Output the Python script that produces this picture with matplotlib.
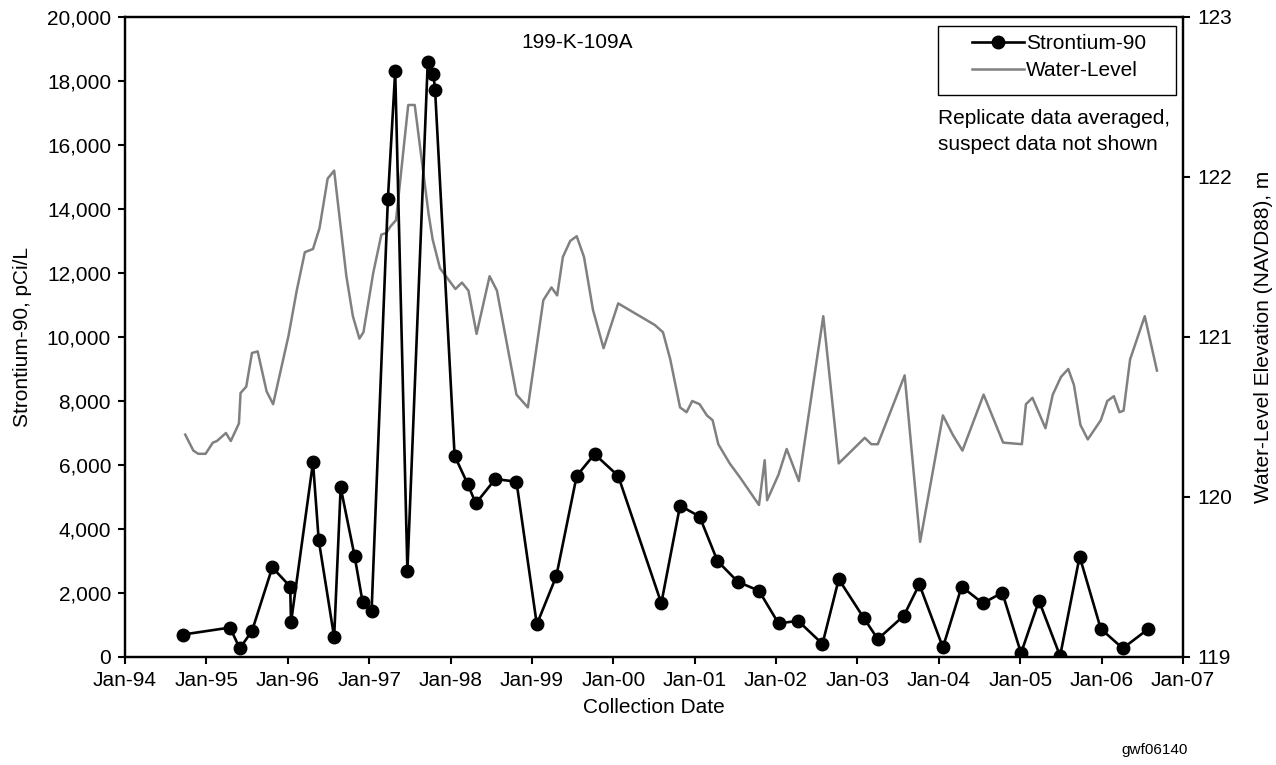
import matplotlib
matplotlib.use("Agg")
import matplotlib.pyplot as plt
from matplotlib.patches import Rectangle
from matplotlib.ticker import FuncFormatter

plt.rcParams['font.family'] = ['Liberation Sans', 'DejaVu Sans']

# Strontium-90 samples (decimal year, pCi/L)
sr_year = [1994.71, 1995.29, 1995.41, 1995.56, 1995.81, 1996.03, 1996.04, 1996.31, 1996.38, 1996.57,
           1996.65, 1996.82, 1996.92, 1997.03, 1997.23, 1997.32, 1997.47, 1997.72, 1997.79, 1997.81,
           1998.05, 1998.21, 1998.31, 1998.55, 1998.81, 1999.06, 1999.30, 1999.55, 1999.77, 2000.06,
           2000.59, 2000.82, 2001.06, 2001.28, 2001.53, 2001.79, 2002.03, 2002.27, 2002.57, 2002.77,
           2003.08, 2003.25, 2003.57, 2003.76, 2004.05, 2004.28, 2004.54, 2004.78, 2005.01, 2005.23,
           2005.49, 2005.73, 2005.99, 2006.26, 2006.57]
sr_val = [700, 920, 270, 810, 2800, 2200, 1080, 6080, 3660, 620,
          5300, 3170, 1710, 1450, 14300, 18300, 2690, 18600, 18210, 17720,
          6290, 5410, 4800, 5560, 5480, 1020, 2530, 5660, 6340, 5660,
          1680, 4730, 4390, 3000, 2350, 2070, 1050, 1130, 410, 2430,
          1210, 560, 1290, 2270, 300, 2200, 1680, 2010, 120, 1760,
          30, 3140, 880, 270, 870]

# water level (decimal year, m NAVD88)
wl_year = [1994.74, 1994.84, 1994.90, 1994.99, 1995.08, 1995.13, 1995.24, 1995.30, 1995.40, 1995.42,
           1995.49, 1995.56, 1995.63, 1995.74, 1995.82, 1996.01, 1996.11, 1996.21, 1996.31, 1996.39,
           1996.49, 1996.57, 1996.72, 1996.80, 1996.88, 1996.93, 1997.05, 1997.15, 1997.21, 1997.26,
           1997.33, 1997.48, 1997.56, 1997.73, 1997.78, 1997.87, 1998.06, 1998.14, 1998.22, 1998.32,
           1998.48, 1998.57, 1998.81, 1998.95, 1999.14, 1999.24, 1999.31, 1999.38, 1999.47, 1999.55,
           1999.64, 1999.75, 1999.88, 2000.06, 2000.51, 2000.61, 2000.70, 2000.82, 2000.90, 2000.97,
           2001.06, 2001.15, 2001.22, 2001.29, 2001.43, 2001.56, 2001.79, 2001.86, 2001.89, 2002.03,
           2002.13, 2002.28, 2002.58, 2002.77, 2003.09, 2003.17, 2003.25, 2003.58, 2003.77, 2004.05,
           2004.17, 2004.29, 2004.55, 2004.79, 2005.02, 2005.07, 2005.15, 2005.31, 2005.40, 2005.50,
           2005.59, 2005.66, 2005.74, 2005.83, 2005.99, 2006.07, 2006.15, 2006.22, 2006.27, 2006.35,
           2006.53, 2006.68]
wl_val = [120.39, 120.29, 120.27, 120.27, 120.34, 120.35, 120.40, 120.35, 120.46, 120.65,
          120.69, 120.90, 120.91, 120.66, 120.58, 121.01, 121.29, 121.53, 121.55, 121.68,
          121.99, 122.04, 121.38, 121.13, 120.99, 121.03, 121.40, 121.64, 121.65, 121.69,
          121.73, 122.45, 122.45, 121.77, 121.61, 121.43, 121.30, 121.34, 121.29, 121.02,
          121.38, 121.29, 120.64, 120.56, 121.23, 121.31, 121.26, 121.50, 121.60, 121.63,
          121.50, 121.17, 120.93, 121.21, 121.075, 121.03, 120.86, 120.56, 120.53, 120.60,
          120.58, 120.51, 120.48, 120.33, 120.21, 120.12, 119.95, 120.23, 119.98, 120.14,
          120.30, 120.10, 121.13, 120.21, 120.37, 120.33, 120.33, 120.76, 119.72, 120.51,
          120.39, 120.29, 120.64, 120.34, 120.33, 120.58, 120.62, 120.43, 120.64, 120.75,
          120.80, 120.70, 120.45, 120.36, 120.48, 120.60, 120.63, 120.53, 120.54, 120.86,
          121.13, 120.79]

year_ticks = list(range(1994, 2008))
year_labels = ['Jan-94', 'Jan-95', 'Jan-96', 'Jan-97', 'Jan-98', 'Jan-99', 'Jan-00',
               'Jan-01', 'Jan-02', 'Jan-03', 'Jan-04', 'Jan-05', 'Jan-06', 'Jan-07']

fs = 15
fig = plt.figure(figsize=(12.76, 7.65), dpi=100)
ax = fig.add_axes([125/1276, 1-657/765, (1183-125)/1276, 640/765])
ax2 = ax.twinx()

ln_wl, = ax2.plot(wl_year, wl_val, color='#808080', lw=1.8, label='Water-Level')
ln_sr, = ax.plot(sr_year, sr_val, color='black', lw=1.9, marker='o', ms=9,
                 label='Strontium-90')
ax.set_zorder(ax2.get_zorder() + 1)
ax.patch.set_visible(False)

ax.set_xlim(1994, 2007)
ax.set_ylim(0, 20000)
ax2.set_ylim(119, 123)
ax.set_xticks(year_ticks)
ax.set_xticklabels(year_labels)
ax.set_yticks(range(0, 20001, 2000))
ax.yaxis.set_major_formatter(FuncFormatter(lambda v, p: f'{int(v):,}'))
ax2.set_yticks([119, 120, 121, 122, 123])

for a in (ax, ax2):
    for s in a.spines.values():
        s.set_linewidth(1.6)
    a.tick_params(direction='out', length=5, width=1.5, labelsize=fs, pad=5)

ax.set_ylabel('Strontium-90, pCi/L', fontsize=fs, labelpad=11)
ax2.set_ylabel('Water-Level Elevation (NAVD88), m', fontsize=fs, labelpad=16)
ax.set_xlabel('Collection Date', fontsize=fs, labelpad=6)

ax.text(0.427, 0.96, '199-K-109A', transform=ax.transAxes, ha='center', va='center', fontsize=fs)

# legend frame drawn separately so its padding matches the original box
ax.add_patch(Rectangle((0.7684, 0.878), 0.225, 0.108, transform=ax.transAxes,
                       fill=False, edgecolor='black', lw=1.0, zorder=5))
leg = ax.legend(handles=[ln_sr, ln_wl], loc='center', bbox_to_anchor=(0.883, 0.937),
                fontsize=fs, frameon=False, handlelength=2.5, handletextpad=0.1,
                borderpad=0.0, labelspacing=0.4, borderaxespad=0)

ax.text(0.768, 0.856, 'Replicate data averaged,\nsuspect data not shown', transform=ax.transAxes,
        ha='left', va='top', fontsize=fs, linespacing=1.45)

fig.text(1155/1276, 1-750/765, 'gwf06140', ha='center', va='center', fontsize=11)

fig.savefig('out.png', dpi=100)
